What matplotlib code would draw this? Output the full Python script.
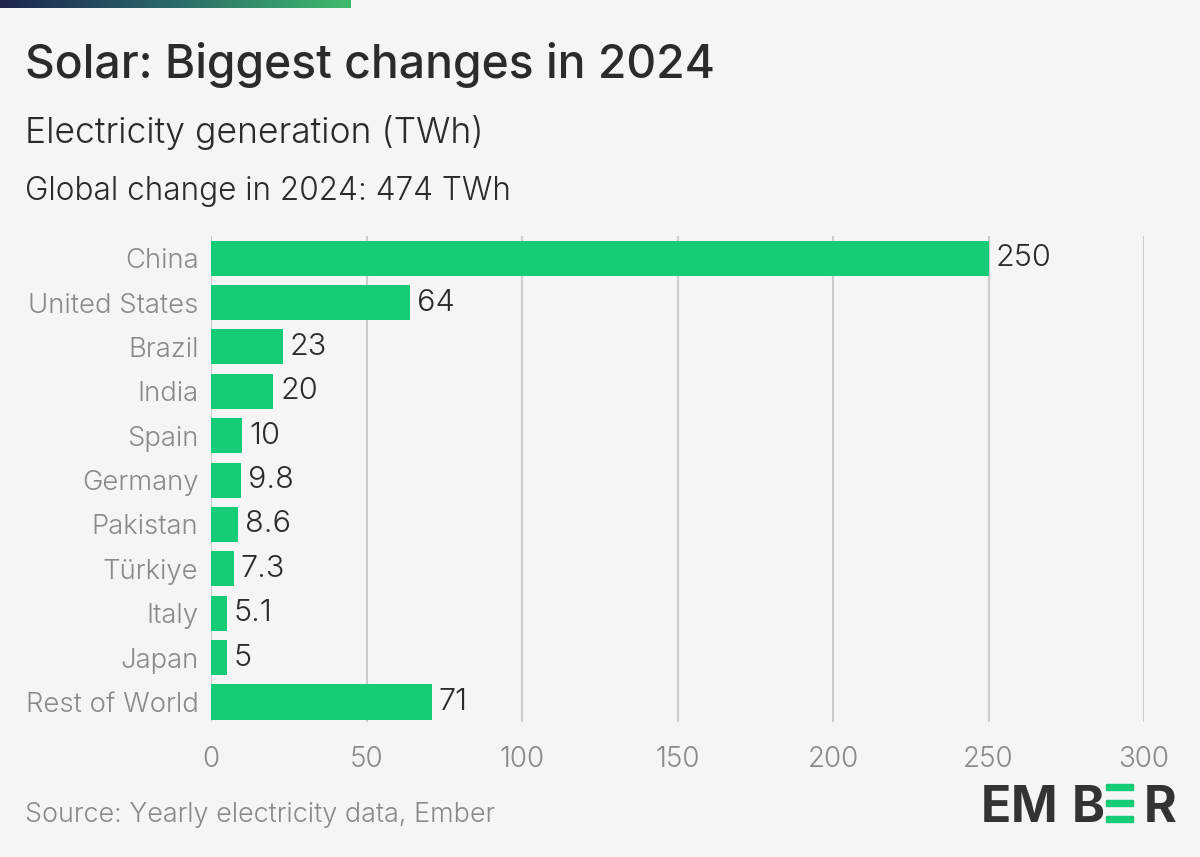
import matplotlib
matplotlib.use("Agg")
import matplotlib.pyplot as plt
import numpy as np
from matplotlib.patches import Rectangle
from matplotlib.colors import LinearSegmentedColormap

countries = ["China", "United States", "Brazil", "India", "Spain", "Germany",
             "Pakistan", "Türkiye", "Italy", "Japan", "Rest of World"]
values = [250, 64, 23, 20, 10, 9.8, 8.6, 7.3, 5.1, 5, 71]
value_labels = ["250", "64", "23", "20", "10", "9.8", "8.6", "7.3", "5.1", "5", "71"]
xticks = [0, 50, 100, 150, 200, 250, 300]

BG = "#f5f5f5"
BAR = "#17cc76"
DARK = "#2b2b2b"
GREY = "#8a8a8a"
FONT = ["Inter", "DejaVu Sans"]
plt.rcParams["font.family"] = FONT

W, H = 1200, 857
fig = plt.figure(figsize=(W / 100, H / 100), dpi=100, facecolor=BG)

def fx(px):
    return px / W

def fy(py):
    return 1 - py / H

# gradient strip at top
grad_ax = fig.add_axes([0, fy(8), fx(351), 8 / H])
grad = np.linspace(0, 1, 256).reshape(1, -1)
cmap = LinearSegmentedColormap.from_list("g", ["#1e2550", "#2b6a6a", "#3fbb6c"])
grad_ax.imshow(grad, aspect="auto", cmap=cmap)
grad_ax.axis("off")

# titles
fig.text(fx(25), fy(78), "Solar: Biggest changes in 2024", fontsize=33.3, fontweight=500,
         color=DARK, va="baseline", ha="left")
fig.text(fx(25), fy(143), "Electricity generation (TWh)", fontsize=25.5, fontweight=300,
         color=DARK, va="baseline", ha="left")
fig.text(fx(25), fy(200), "Global change in 2024: 474 TWh", fontsize=22.7, fontweight=300,
         color=DARK, va="baseline", ha="left")

# main axes
ax = fig.add_axes([fx(211), fy(722), fx(1144) - fx(211), (722 - 236) / H])
ax.set_facecolor(BG)
y = np.arange(len(countries))
ax.barh(y, values, height=0.79, color=BAR, zorder=3)
ax.set_xlim(0, 300)
ax.set_ylim(len(countries) - 0.55, -0.5)
ax.set_xticks(xticks)
ax.set_xticklabels([str(t) for t in xticks], fontsize=20, color=GREY, fontweight=300)
ax.set_yticks(y)
ax.set_yticklabels(countries, fontsize=19.8, color=GREY, fontweight=300)
ax.tick_params(axis="both", length=0)
ax.tick_params(axis="x", pad=17)
ax.tick_params(axis="y", pad=9)
ax.grid(axis="x", color="#cccccc", linewidth=1.5, zorder=0)
for s in ax.spines.values():
    s.set_visible(False)

for yi, v, lab in zip(y, values, value_labels):
    ax.text(v + 2.2, yi, lab, va="center", ha="left", fontsize=22, color=DARK,
            fontweight=300, zorder=4)

# source
fig.text(fx(25), fy(822), "Source: Yearly electricity data, Ember", fontsize=19.4,
         fontweight=300, color=GREY, va="baseline", ha="left")

# logo
for ch, px in (("E", 995.5), ("M", 1034), ("B", 1088.5), ("R", 1160)):
    fig.text(fx(px), fy(822), ch, fontsize=36, fontweight="bold", color="#333333",
             va="baseline", ha="center")
for top in (784, 800, 816):
    fig.patches.append(Rectangle((fx(1106), fy(top + 6)), fx(27), 6 / H,
                                 transform=fig.transFigure, color=BAR))

fig.savefig("out.png", dpi=100, facecolor=BG)
